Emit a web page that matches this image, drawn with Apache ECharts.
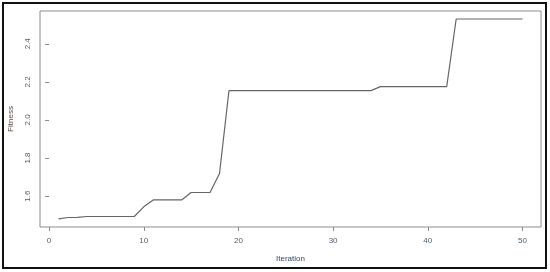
<!DOCTYPE html>
<html>
<head>
<meta charset="utf-8">
<script src="https://cdn.jsdelivr.net/npm/echarts@6/dist/echarts.min.js"></script>
<style>
  html, body { margin: 0; padding: 0; background: #fff; }
  #chart { width: 550px; height: 272px; }
</style>
</head>
<body>
<div id="chart"></div>
<script>
// iterations 1..50 and best fitness at each
const iterations = [];
for (let i = 1; i <= 50; i++) iterations.push(i);
const fitness = [
  1.481, 1.488, 1.489, 1.493, 1.493, 1.493, 1.493, 1.493, 1.493, 1.544,
  1.580, 1.580, 1.580, 1.580, 1.619, 1.619, 1.619, 1.719, 2.154, 2.154,
  2.154, 2.154, 2.154, 2.154, 2.154, 2.154, 2.154, 2.154, 2.154, 2.154,
  2.154, 2.154, 2.154, 2.154, 2.175, 2.175, 2.175, 2.175, 2.175, 2.175,
  2.175, 2.175, 2.530, 2.530, 2.530, 2.530, 2.530, 2.530, 2.530, 2.530
];
const xTicks = [0, 10, 20, 30, 40, 50];
const yTicks = [1.6, 1.8, 2.0, 2.2, 2.4];

const chart = echarts.init(document.getElementById('chart'));

const option = {
  animation: false,
  backgroundColor: '#fff',
  textStyle: { fontFamily: 'Liberation Sans, Arial, sans-serif' },
  grid: {
    left: 40, top: 11, width: 501, height: 216,
    outerBoundsMode: 'none',
    show: true, borderColor: '#8c8c8c', borderWidth: 1, backgroundColor: 'transparent'
  },
  graphic: [{
    type: 'rect',
    shape: { x: 3, y: 3, width: 543, height: 265 },
    style: { fill: 'none', stroke: '#111', lineWidth: 2 },
    silent: true
  }],
  xAxis: {
    type: 'value',
    min: -0.96, max: 51.96,
    name: 'Iteration',
    nameLocation: 'middle',
    nameGap: 28,
    nameTextStyle: { color: '#2e4a66', fontSize: 8 },
    axisLine: { show: false },
    axisTick: { show: true, length: 4, lineStyle: { color: '#8c8c8c' }, customValues: xTicks },
    axisLabel: { color: '#4d5e70', fontSize: 8, margin: 10, customValues: xTicks },
    splitLine: { show: false }
  },
  yAxis: {
    type: 'value',
    min: 1.438, max: 2.572,
    name: 'Fitness',
    nameLocation: 'middle',
    nameGap: 25,
    nameTextStyle: { color: '#5a4a3a', fontSize: 8 },
    axisLine: { show: false },
    axisTick: { show: true, length: 4, lineStyle: { color: '#8c8c8c' }, customValues: yTicks },
    axisLabel: {
      color: '#4d5e70', fontSize: 8, margin: 8, rotate: 90,
      customValues: yTicks,
      formatter: v => v.toFixed(1)
    },
    splitLine: { show: false }
  },
  series: [{
    type: 'line',
    data: iterations.map((x, i) => [x, fitness[i]]),
    showSymbol: false,
    lineStyle: { color: '#666', width: 1.2 }
  }]
};

chart.setOption(option);
</script>
</body>
</html>
